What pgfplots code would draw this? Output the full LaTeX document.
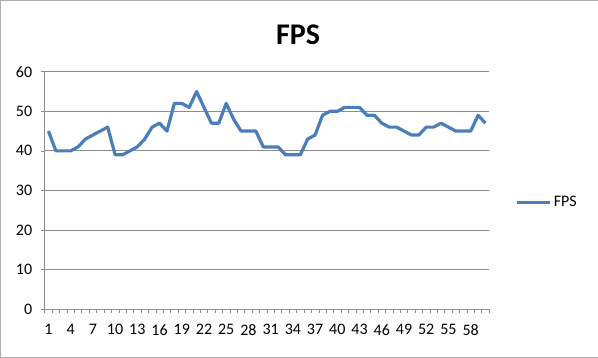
\documentclass[border=0pt]{standalone}
\usepackage{pgfplots}
\pgfplotsset{compat=1.18}
\usepackage{fontspec}
\setmainfont{Carlito}
\definecolor{fpsblue}{HTML}{4A7EBB}
\definecolor{gridgray}{HTML}{8C8C8C}
\begin{document}
\begin{tikzpicture}
\draw[draw=gridgray!70, fill=white] (0.5bp,0.5bp) rectangle (597.5bp,357.5bp);
\node[font=\fontsize{30bp}{34bp}\selectfont\bfseries] at (298bp,323bp) {FPS};
\begin{axis}[
  at={(45bp,49bp)}, anchor=south west,
  scale only axis, width=444bp, height=237bp,
  xmin=0.5, xmax=60.5, ymin=0, ymax=60,
  xtick={1,4,...,58},
  minor xtick={0.5,1.5,...,60.5},
  ytick={0,10,...,60},
  major x tick style={draw=none},
  minor tick length=4bp,
  major tick length=4bp,
  tick align=outside,
  xtick pos=lower, ytick pos=left,
  ymajorgrids, grid style={gridgray, line width=0.8bp},
  axis x line*=bottom, axis y line*=left,
  axis line style={gridgray, line width=0.8bp},
  every tick/.style={gridgray, line width=0.6bp},
  tick label style={font=\fontsize{16bp}{18bp}\selectfont, /pgf/number format/assume math mode=true},
  xticklabel style={yshift=-8bp},
  yticklabel style={xshift=-5bp},
  x axis line style={-}, y axis line style={-},
  legend style={at={(1.059,0.449)}, anchor=west, draw=none, fill=none,
    font=\fontsize{16bp}{18bp}\selectfont, inner sep=0pt},
  legend cell align=left,
  legend image code/.code={\draw[line width=3.2bp, color=fpsblue] (0bp,0bp) -- (33bp,0bp);},
]
\addplot[color=fpsblue, line width=3.2bp, mark=none, line join=round] coordinates {
(1,45)(2,40)(3,40)(4,40)(5,41)(6,43)(7,44)(8,45)(9,46)(10,39)
(11,39)(12,40)(13,41)(14,43)(15,46)(16,47)(17,45)(18,52)(19,52)(20,51)
(21,55)(22,51)(23,47)(24,47)(25,52)(26,48)(27,45)(28,45)(29,45)(30,41)
(31,41)(32,41)(33,39)(34,39)(35,39)(36,43)(37,44)(38,49)(39,50)(40,50)
(41,51)(42,51)(43,51)(44,49)(45,49)(46,47)(47,46)(48,46)(49,45)(50,44)
(51,44)(52,46)(53,46)(54,47)(55,46)(56,45)(57,45)(58,45)(59,49)(60,47)
};
\addlegendentry{FPS}
\end{axis}
\end{tikzpicture}
\end{document}
